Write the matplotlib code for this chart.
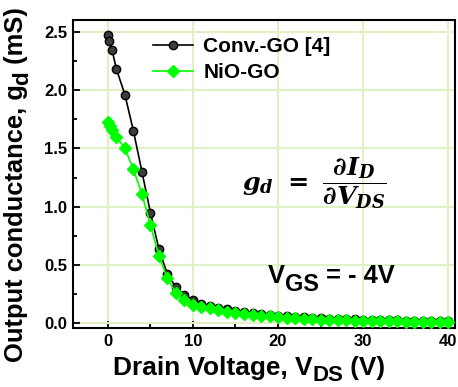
import numpy as np
import matplotlib
matplotlib.use("Agg")
import matplotlib.pyplot as plt
from matplotlib.ticker import MultipleLocator
from matplotlib.transforms import IdentityTransform

plt.rcParams['font.family'] = ['Liberation Sans', 'DejaVu Sans']
plt.rcParams['font.weight'] = 'bold'
plt.rcParams['mathtext.fontset'] = 'custom'
plt.rcParams['mathtext.rm'] = 'DejaVu Serif:bold'
plt.rcParams['mathtext.it'] = 'DejaVu Serif:italic:bold'
plt.rcParams['mathtext.bf'] = 'DejaVu Serif:italic:bold'

# Conv.-GO [4]
conv_x = [0, 0.1, 0.5, 1, 2, 3, 4, 5, 6, 7, 8, 9, 10, 11, 12, 13, 14, 15, 16, 17, 18, 19,
          20, 21, 22, 23, 24, 25, 26, 27, 28, 29, 30, 31, 32, 33, 34, 35, 36, 37, 38, 39, 40]
conv_y = [2.47, 2.42, 2.34, 2.18, 1.96, 1.65, 1.30, 0.95, 0.635, 0.42, 0.31, 0.245, 0.20,
          0.17, 0.15, 0.135, 0.12, 0.105, 0.095, 0.087, 0.08, 0.073, 0.067, 0.062, 0.057,
          0.052, 0.048, 0.044, 0.041, 0.038, 0.035, 0.033, 0.031, 0.029, 0.027, 0.026,
          0.025, 0.024, 0.023, 0.022, 0.021, 0.020, 0.019]

# NiO-GO
nio_x = [0, 0.25, 0.5, 1, 2, 3, 4, 5, 6, 7, 8, 9, 10, 11, 12, 13, 14, 15, 16, 17, 18, 19,
         20, 21, 22, 23, 24, 25, 26, 27, 28, 29, 30, 31, 32, 33, 34, 35, 36, 37, 38, 39, 40]
nio_y = [1.73, 1.69, 1.66, 1.60, 1.50, 1.32, 1.11, 0.84, 0.58, 0.385, 0.26, 0.20, 0.155,
         0.14, 0.128, 0.115, 0.10, 0.09, 0.082, 0.074, 0.067, 0.06, 0.055, 0.05, 0.045,
         0.04, 0.036, 0.032, 0.03, 0.027, 0.025, 0.022, 0.02, 0.019, 0.018, 0.017, 0.016,
         0.015, 0.014, 0.013, 0.012, 0.012, 0.011]

legend_labels = ['Conv.-GO [4]', 'NiO-GO']

W, H = 458, 387
fig = plt.figure(figsize=(W / 100, H / 100), dpi=100)
ax = fig.add_axes([73 / W, 1 - 328 / H, 382 / W, 308 / H])

ax.grid(True, which='major', color='#e0f2c4', linewidth=1.5, zorder=0)
ax.set_axisbelow(True)

ax.plot(conv_x, conv_y, color='black', linewidth=1.2, marker='o', markersize=6,
        markerfacecolor='#3c3c3c', markeredgecolor='black', markeredgewidth=1.0,
        label=legend_labels[0], zorder=3)
ax.plot(nio_x, nio_y, color='#00ff00', linewidth=1.2, marker='D', markersize=6.5,
        markerfacecolor='#00ff00', markeredgecolor='#00ff00',
        label=legend_labels[1], zorder=4)

ax.set_xlim(-4.1, 40.8)
ax.set_ylim(-0.04, 2.6)
ax.xaxis.set_major_locator(MultipleLocator(10))
ax.xaxis.set_minor_locator(MultipleLocator(5))
ax.yaxis.set_major_locator(MultipleLocator(0.5))
ax.yaxis.set_minor_locator(MultipleLocator(0.25))
ax.tick_params(which='both', direction='in', width=1.3, labelsize=12)
ax.tick_params(which='major', length=5, pad=4)
ax.tick_params(which='minor', length=3)
for lab in ax.get_xticklabels() + ax.get_yticklabels():
    lab.set_fontweight('bold')
for s in ax.spines.values():
    s.set_linewidth(1.5)

leg = ax.legend(loc='upper left', bbox_to_anchor=(0.205, 0.95), frameon=False,
                fontsize=15, handlelength=1.9, handletextpad=0.5, borderaxespad=0,
                borderpad=0.1, labelspacing=0.32, markerscale=1.0)
for t in leg.get_texts():
    t.set_fontweight('bold')

renderer = fig.canvas.get_renderer()


def rich(pieces, x0, y0, target_len, rotation=0):
    """pieces: list of (text, rel_size, shift_down_rel). Positions in display px."""
    base = 10.0
    widths = []
    for txt, rs, _ in pieces:
        t = fig.text(0, 0, txt, fontsize=base * rs, fontweight='bold')
        widths.append(t.get_window_extent(renderer).width)
        t.remove()
    scale = target_len / sum(widths)
    fs = base * scale
    pos = 0.0
    for (txt, rs, dn), w in zip(pieces, widths):
        off = pos * scale
        drop = dn * fs * 100 / 72
        if rotation == 0:
            x, y = x0 + off, y0 - drop
        else:
            x, y = x0 + drop, y0 + off
        fig.text(x, y, txt, fontsize=fs * rs, fontweight='bold', transform=IdentityTransform(),
                 ha='left', va='baseline', rotation=rotation, rotation_mode='anchor')
        pos += w


# x label: "Drain Voltage, V_DS (V)"
rich([('Drain Voltage, V', 1.0, 0), ('DS', 0.85, 0.22), (' (V)', 1.0, 0)],
     113, H - 375, 272)
# y label: "Output conductance, g_d (mS)"
rich([('Output conductance, g', 1.0, 0), ('d', 0.88, 0.22), (' (mS)', 1.0, 0)],
     23, H - 362, 355, rotation=90)
# V_GS = - 4V
rich([('V', 1.0, 0), ('GS', 0.92, 0.33), (' = - 4V', 1.0, 0)],
     268, H - 283, 127)

# formula
ft = fig.text(242, H - 183, r'$g_d\ =\ \dfrac{\partial I_D}{\partial V_{DS}}$',
              transform=IdentityTransform(), fontsize=18, ha='left', va='center')
w = ft.get_window_extent(renderer).width
ft.set_fontsize(18 * 145 / w)

fig.savefig('out.png', dpi=100)
